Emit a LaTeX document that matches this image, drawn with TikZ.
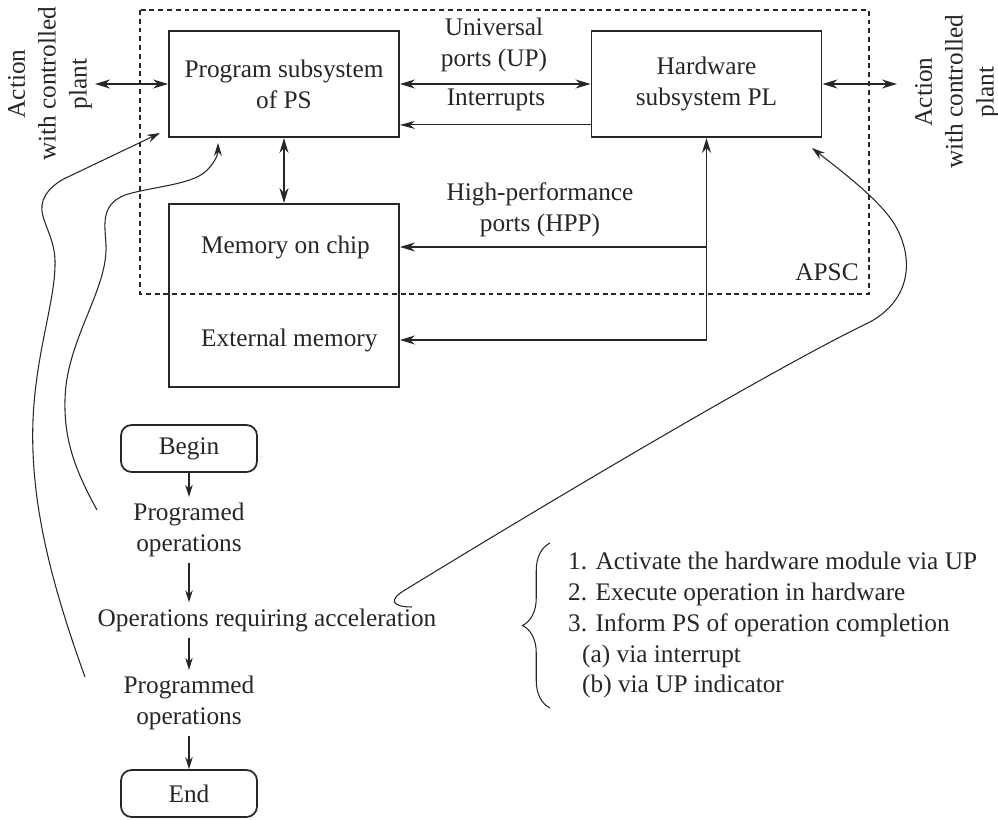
\documentclass[tikz,border=0pt]{standalone}
\usepackage{fontspec}
\setmainfont{Liberation Serif}
\usetikzlibrary{arrows.meta,decorations.pathreplacing}

\begin{document}
\begin{tikzpicture}[
  x=0.02cm, y=-0.02cm,
  every node/.style={font=\fontsize{14.4}{17.6}\selectfont, text=black!85},
  block/.style={draw=black!85, line width=1.1pt, minimum width=4.6cm, minimum height=2.12cm, align=center},
  term/.style={draw=black!85, line width=1pt, rounded corners=6pt, minimum width=2.72cm, minimum height=0.94cm},
  txt/.style={align=center},
  frame/.style={draw=black!85, line width=0.6pt, dash pattern=on 2.8pt off 2.2pt},
  bus/.style={draw=black!85, line width=1.1pt, -{Stealth[length=3mm,width=1.8mm]}},
  dbus/.style={bus, {Stealth[length=3mm,width=1.8mm]}-{Stealth[length=3mm,width=1.8mm]}},
  thinbus/.style={draw=black!85, line width=0.6pt, -{Stealth[length=3mm,width=1.6mm]}},
  flow/.style={draw=black!85, line width=0.7pt, -{Stealth[length=2.4mm,width=1.5mm]}},
  link/.style={draw=black!85, line width=0.6pt, -{Stealth[length=2.6mm,width=1.6mm]}},
  brc/.style={draw=black!85, line width=0.6pt, decorate, decoration={brace, amplitude=0.55cm}}
]
  \useasboundingbox (0,0) rectangle (998,820);

  % APSC frame
  \draw[frame] (140,10) rectangle (869,294);
  \node (apsc) at (827,272) {APSC};

  % blocks of the system
  \node[block] (ps) at (284,84) {Program subsystem\\of PS};
  \node[block] (hw) at (706.5,84) {Hardware\\subsystem PL};
  \node[block, minimum height=3.66cm] (mem) at (284,295.5) {};
  \node[anchor=west] (onchip) at (195,247) {Memory on chip};
  \node[anchor=west] (extmem) at (195,340) {External memory};

  % controlled plant
  \node[txt, rotate=90] (actL) at (50,84) {Action\\with controlled\\plant};
  \node[txt, rotate=90] (actR) at (957,92) {Action\\with controlled\\plant};
  \coordinate (plL) at (95,84);
  \coordinate (plR) at (897,84);

  % port labels
  \node[txt] (upl) at (494,45) {Universal\\ports (UP)};
  \node (intl) at (496,100) {Interrupts};
  \node[txt] (hppl) at (540,210) {High-performance\\ports (HPP)};

  % connections
  \draw[dbus] (plL) -- (ps.west);
  \draw[dbus] (hw.east) -- (plR);
  \draw[dbus] (ps.east) -- (hw.west);
  \draw[thinbus] ([yshift=0.26cm]hw.south west) -- ([yshift=0.26cm]ps.south east);
  \draw[dbus] (ps.south) -- (mem.north);
  \draw[dbus] (hw.south) -- (hw.south |- extmem) -- (extmem -| mem.east);
  \draw[bus] (hw.south |- onchip) -- (onchip -| mem.east);

  % program flow
  \node[term] (begin) at (189,448.5) {Begin};
  \node[txt] (prog1) at (189,530) {Programed\\operations};
  \node (accel) at (267,620) {Operations requiring acceleration};
  \node[txt] (prog2) at (189,703) {Programmed\\operations};
  \node[term] (fin) at (189,793.5) {End};
  \draw[flow] (begin) -- (prog1);
  \draw[flow] (prog1) -- (prog1 |- accel.north);
  \draw[flow] (prog1 |- accel.south) -- (prog2);
  \draw[flow] (prog2) -- (fin);

  % acceleration steps
  \draw[brc] (550,708) -- (550,543);
  \node[anchor=west, align=left] (steps) at (562,625) {1. Activate the hardware module via UP\\
    2. Execute operation in hardware\\
    3. Inform PS of operation completion\\
    \hspace*{0.28cm}(a) via interrupt\\
    \hspace*{0.28cm}(b) via UP indicator};

  % links from the flow to the blocks
  \coordinate (s1) at (85,677);
  \coordinate (s2) at (97,510);
  \coordinate (s3) at (412,607);
  \coordinate (e1) at (160,133);
  \coordinate (e2) at (218,143);
  \coordinate (e3) at (812,148);
  \draw[link] (s1) .. controls (50,580) and (30,500) .. (33,420)
    .. controls (36,350) and (56,300) .. (55,260)
    .. controls (54,235) and (40,220) .. (42,205)
    .. controls (44,190) and (60,180) .. (70,176) -- (e1);
  \draw[link] (s2) .. controls (75,470) and (64,440) .. (65,400)
    .. controls (66,340) and (108,290) .. (106,245)
    .. controls (105,225) and (100,205) .. (125,195)
    .. controls (150,187) and (190,185) .. (205,172)
    .. controls (214,164) and (218,155) .. (e2);
  \draw[link] (s3) .. controls (392,607) and (388,600) .. (405,590)
    .. controls (560,495) and (780,365) .. (870,322)
    .. controls (910,300) and (915,260) .. (895,225)
    .. controls (880,200) and (840,170) .. (e3);
\end{tikzpicture}
\end{document}
